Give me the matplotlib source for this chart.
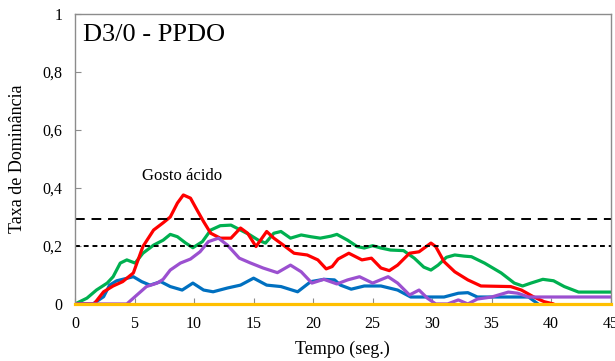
import matplotlib
matplotlib.use("Agg")
import matplotlib.pyplot as plt

# Dominance rate curves (TDS) for sample D3/0 - PPDO
red_t = [0, 1.6, 2.4, 3.2, 4.0, 4.9, 5.7, 6.6, 7.4, 8.0, 8.6, 9.1, 9.7, 10.25, 10.8,
         11.4, 12.2, 13.1, 13.9, 14.5, 15.2, 16.1, 16.7, 17.5, 18.4, 19.5, 20.4, 21.1,
         21.6, 22.1, 23.0, 24.1, 24.9, 25.7, 26.4, 27.1, 28.1, 28.9, 29.9, 30.3, 31.0,
         31.9, 33.0, 34.1, 36.6, 37.5, 38.5, 39.4, 40.2]
red_y = [0, 0, 0.042, 0.062, 0.077, 0.107, 0.198, 0.255, 0.28, 0.30, 0.348, 0.376, 0.365,
         0.324, 0.284, 0.244, 0.227, 0.227, 0.262, 0.244, 0.198, 0.25, 0.227, 0.203, 0.175,
         0.169, 0.152, 0.121, 0.129, 0.155, 0.175, 0.152, 0.158, 0.124, 0.115, 0.134, 0.175,
         0.18, 0.21, 0.198, 0.146, 0.111, 0.083, 0.062, 0.06, 0.048, 0.025, 0.008, 0]

green_t = [0, 1.0, 1.8, 2.7, 3.2, 3.8, 4.35, 5.05, 5.7, 6.6, 7.4, 8.0, 8.6, 9.3, 9.9, 10.7,
           11.4, 12.2, 13.1, 13.9, 14.7, 15.4, 16.0, 16.7, 17.3, 18.1, 19.0, 19.8, 20.6,
           21.5, 22.0, 22.9, 23.7, 24.3, 25.0, 25.7, 26.5, 27.6, 28.5, 29.3, 29.9, 30.5,
           31.2, 31.9, 32.7, 33.3, 34.4, 35.8, 36.9, 37.6, 38.3, 39.3, 40.2, 41.1, 42.3, 45]
green_y = [0, 0.02, 0.048, 0.072, 0.094, 0.141, 0.152, 0.141, 0.175, 0.203, 0.22, 0.24,
           0.232, 0.21, 0.194, 0.215, 0.255, 0.27, 0.272, 0.255, 0.238, 0.22, 0.21, 0.244,
           0.25, 0.227, 0.238, 0.232, 0.227, 0.234, 0.24, 0.22, 0.198, 0.193, 0.201, 0.193,
           0.186, 0.184, 0.158, 0.127, 0.117, 0.134, 0.161, 0.169, 0.165, 0.163, 0.141,
           0.107, 0.072, 0.062, 0.072, 0.085, 0.08, 0.06, 0.041, 0.041]

blue_t = [0, 1.5, 2.4, 2.9, 3.5, 4.2, 4.9, 5.6, 6.3, 7.2, 8.0, 9.0, 9.9, 10.8, 11.6, 12.8,
          13.9, 15.0, 16.1, 17.3, 18.7, 19.8, 20.9, 21.8, 22.3, 23.2, 24.3, 25.7, 27.1,
          28.2, 29.9, 31.0, 32.2, 33.0, 33.8, 38.1, 38.9]
blue_y = [0, 0, 0.025, 0.065, 0.08, 0.087, 0.094, 0.077, 0.065, 0.077, 0.06, 0.048, 0.072,
          0.048, 0.042, 0.055, 0.065, 0.089, 0.065, 0.06, 0.042, 0.077, 0.085, 0.083, 0.065,
          0.051, 0.062, 0.062, 0.048, 0.024, 0.024, 0.024, 0.037, 0.039, 0.024, 0.024, 0]

purple_t = [0, 4.35, 5.2, 6.0, 6.9, 7.4, 8.0, 8.85, 9.7, 10.5, 11.2, 12.05, 12.8, 13.8,
            14.7, 15.8, 17.0, 18.1, 19.0, 19.9, 20.9, 22.0, 22.9, 23.9, 25.0, 26.3, 27.1,
            28.1, 28.9, 29.6, 30.3, 31.3, 32.2, 33.0, 33.8, 35.0, 36.4, 37.2, 38.1, 45]
purple_y = [0, 0, 0.031, 0.06, 0.072, 0.085, 0.117, 0.141, 0.155, 0.18, 0.215, 0.227,
            0.203, 0.158, 0.142, 0.124, 0.108, 0.134, 0.111, 0.072, 0.085, 0.069, 0.083,
            0.094, 0.072, 0.094, 0.072, 0.031, 0.048, 0.02, 0, 0, 0.014, 0, 0.017, 0.024,
            0.041, 0.037, 0.024, 0.024]

yellow_t = [0, 45]
yellow_y = [0, 0]

# significance levels
upper_level = 0.293
lower_level = 0.2

x_ticks = [0, 5, 10, 15, 20, 25, 30, 35, 40, 45]
y_ticks = [0, 0.2, 0.4, 0.6, 0.8, 1.0]
y_tick_labels = ["0", "0,2", "0,4", "0,6", "0,8", "1"]

plt.rcParams["font.family"] = ["Liberation Serif", "DejaVu Serif"]

fig = plt.figure(figsize=(6.15, 3.61), dpi=100)
ax = fig.add_axes([0.122, 0.158, 0.871, 0.803])

lw = 2.3
kw = dict(linewidth=lw, solid_joinstyle="round", solid_capstyle="round")
ax.plot(green_t, green_y, color="#00B050", **kw)
ax.plot(blue_t, blue_y, color="#0070C0", **kw)
ax.plot(red_t, red_y, color="#FF0000", **kw)
ax.plot(purple_t, purple_y, color="#9B50D0", **kw)
ax.plot(yellow_t, yellow_y, color="#FFC000", linewidth=lw, clip_on=False, zorder=5)

ax.axhline(upper_level, color="black", linewidth=1.4, dashes=(5, 3.5))
ax.axhline(lower_level, color="black", linewidth=1.4, dashes=(2.5, 2))

ax.set_xlim(0, 45)
ax.set_ylim(0, 1)
ax.set_xticks(x_ticks)
ax.set_yticks(y_ticks)
ax.set_yticklabels(y_tick_labels)

for s in ax.spines.values():
    s.set_color("#8c8c8c")
    s.set_linewidth(1.0)
ax.tick_params(direction="in", length=4, color="#8c8c8c", labelsize=11.5, pad=9)

ax.set_xlabel("Tempo (seg.)", fontsize=13, labelpad=6)
ax.set_ylabel("Taxa de Dominância", fontsize=13, labelpad=12)

ax.text(0.014, 0.965, "D3/0 - PPDO", transform=ax.transAxes, fontsize=19,
        ha="left", va="top")
ax.text(9.0, 0.415, "Gosto ácido", fontsize=12, ha="center", va="bottom")

fig.savefig("out.png", dpi=100)
